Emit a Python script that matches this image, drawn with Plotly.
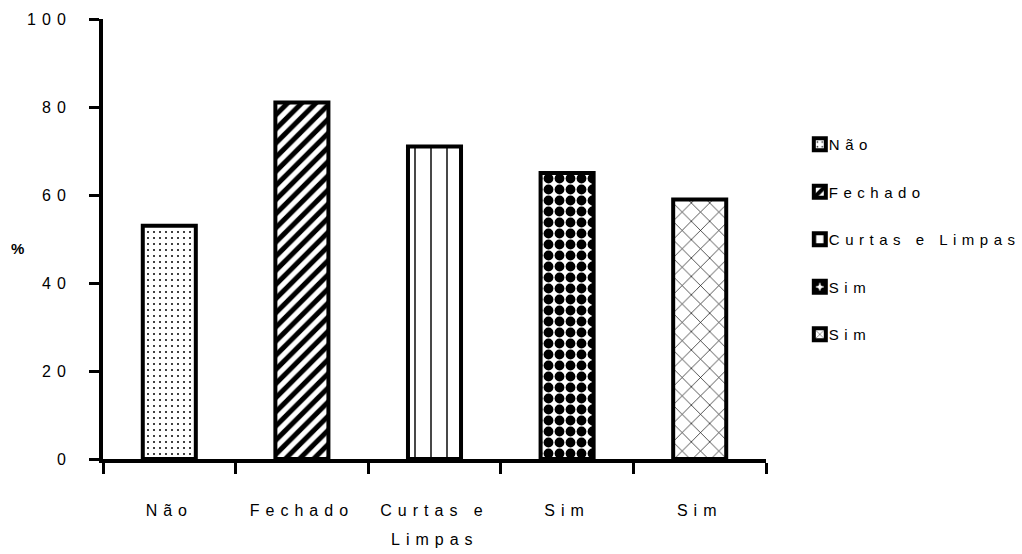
import plotly.graph_objects as go

# Survey answers and their percentages
categories = ["Não", "Fechado", "Curtas e Limpas", "Sim", "Sim"]
tick_labels = ["Não", "Fechado", "Curtas e", "Sim", "Sim"]
second_line = "Limpas"
values = [53, 81, 71, 65, 59]

# Fill pattern for each bar (shape, size, solidity)
patterns = [
    (".", 6, 0.09),
    ("/", 10, 0.5),
    ("|", 16, 0.09),
    (".", 11, 0.62),
    ("x", 13, 0.1),
]

FONT = "Liberation Sans, Arial, sans-serif"
positions = list(range(len(categories)))

fig = go.Figure()
for pos, name, val, (shape, size, sol) in zip(positions, categories, values, patterns):
    fig.add_trace(go.Bar(
        x=[pos], y=[val], name=name, legendgroup=f"g{pos}",
        width=0.4,
        marker=dict(
            color="white",
            line=dict(color="black", width=4),
            pattern=dict(shape=shape, size=size, solidity=sol,
                         fgcolor="black", bgcolor="white",
                         fillmode="overlay", fgopacity=1),
        ),
        hoverinfo="skip",
    ))

fig.update_layout(
    width=1022, height=554,
    margin=dict(l=103, r=256, t=19, b=95),
    paper_bgcolor="white", plot_bgcolor="white",
    barmode="overlay",
    font=dict(family=FONT, color="black"),
    showlegend=True,
    legend=dict(
        x=1.051, y=0.752, xanchor="left", yanchor="top",
        font=dict(size=15, family=FONT, color="black"),
        tracegroupgap=25, itemwidth=30,
        bgcolor="rgba(0,0,0,0)",
    ),
    xaxis=dict(
        range=[-0.5, 4.5],
        tickmode="array", tickvals=positions, ticktext=tick_labels,
        ticks="outside", ticklen=0, tickwidth=0,
        ticklabelstandoff=34,
        tickfont=dict(size=16, family=FONT, color="black"),
        showline=True, linecolor="black", linewidth=4,
        showgrid=False, zeroline=False,
        minor=dict(tickmode="array", tickvals=[p - 0.5 for p in positions] + [4.5],
                   ticks="outside", ticklen=11, tickwidth=3, tickcolor="black",
                   showgrid=False),
    ),
    yaxis=dict(
        range=[0, 100], tickmode="array", tickvals=[0, 20, 40, 60, 80, 100],
        ticks="outside", ticklen=10, tickwidth=3, tickcolor="black",
        ticklabelstandoff=14,
        tickfont=dict(size=16, family=FONT, color="black"),
        showline=True, linecolor="black", linewidth=4,
        showgrid=False, zeroline=False,
    ),
    annotations=[
        dict(text="<b>%</b>", xref="paper", yref="paper",
             x=-0.125, y=0.478, xanchor="center", yanchor="middle",
             showarrow=False, font=dict(size=15, family=FONT, color="black")),
        # second line of the wrapped "Curtas e Limpas" category label
        dict(text=second_line, xref="x", yref="paper",
             x=positions[2], y=-0.184, xanchor="center", yanchor="middle",
             showarrow=False, font=dict(size=16, family=FONT, color="black")),
    ],
)

# Widen the character spacing of tick, annotation and legend labels
post = """
var gd = document.getElementById('{plot_id}');
gd.querySelectorAll('.xtick text, .ytick text, .annotation-text').forEach(function(t){ t.style.letterSpacing = '6px'; });
gd.querySelectorAll('.legend .scrollbox').forEach(function(g){ g.removeAttribute('clip-path'); });
gd.querySelectorAll('.legendtext').forEach(function(t){
    t.style.letterSpacing = '5.5px';
    t.setAttribute('x', '29');
});
"""

fig.write_html("out.html", post_script=post)
